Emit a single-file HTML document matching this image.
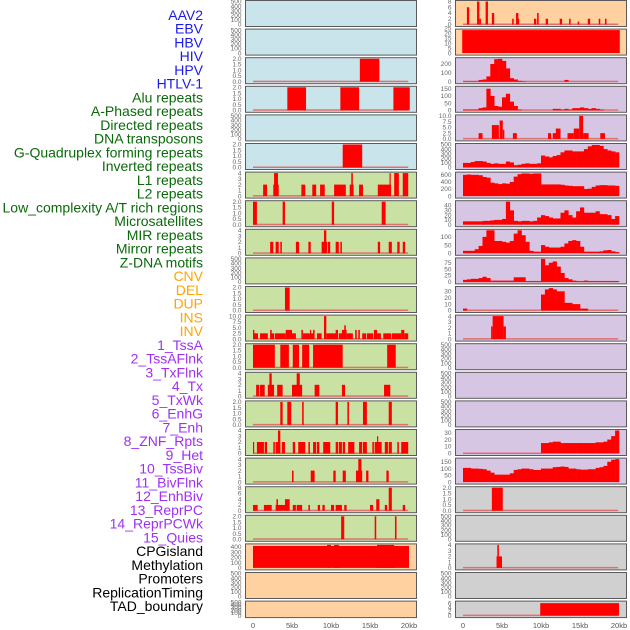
<!DOCTYPE html>
<html><head><meta charset="utf-8"><style>
html,body{margin:0;padding:0;background:#fff;}
svg{display:block;}
.lab{font-family:"Liberation Sans",sans-serif;font-size:14px;}
.tk{font-family:"Liberation Sans",sans-serif;font-size:6.5px;fill:#666;}
.ax{font-family:"Liberation Sans",sans-serif;font-size:7.5px;fill:#555;}
</style></head><body>
<svg id="chart" width="630" height="630" viewBox="0 0 630 630" xmlns="http://www.w3.org/2000/svg">
<g id="labels"></g>
<g id="panels"></g>
<g id="xaxes"></g>
</svg>
<script>
const trackLabels = ["AAV2","EBV","HBV","HIV","HPV","HTLV-1","Alu repeats","A-Phased repeats","Directed repeats","DNA transposons","G-Quadruplex forming repeats","Inverted repeats","L1 repeats","L2 repeats","Low_complexity A/T rich regions","Microsatellites","MIR repeats","Mirror repeats","Z-DNA motifs","CNV","DEL","DUP","INS","INV","1_TssA","2_TssAFlnk","3_TxFlnk","4_Tx","5_TxWk","6_EnhG","7_Enh","8_ZNF_Rpts","9_Het","10_TssBiv","11_BivFlnk","12_EnhBiv","13_ReprPC","14_ReprPCWk","15_Quies","CPGisland","Methylation","Promoters","ReplicationTiming","TAD_boundary"];
const labelGroups = ["v","v","v","v","v","v","r","r","r","r","r","r","r","r","r","r","r","r","r","s","s","s","s","s","c","c","c","c","c","c","c","c","c","c","c","c","c","c","c","k","k","k","k","k"];
const xTickLabels = ["0","5kb","10kb","15kb","20kb"];
const xTickValues = [0,5,10,15,20];

const tEmpty = ["0","100","200","300","400","500"], vEmpty=[0,100,200,300,400,500];
const t2 = ["0.0","0.5","1.0","1.5","2.0"], v2=[0,0.5,1,1.5,2];
const t4 = ["0","1","2","3","4"], v4=[0,1,2,3,4];
const t10 = ["0.0","2.5","5.0","7.5","10.0"], v10=[0,2.5,5,7.5,10];
const t8 = ["0","2","4","6","8"], v8=[0,2,4,6,8];

// segments [startKb, endKb, value]
const hivBars = [[13.7,16.2,2]];
const hpvBars = [[4.4,6.8,2],[11.2,13.6,2],[18.0,20.1,2]];
const aphasedBars = [[11.5,14.0,2]];
const invertedBars = [[1.3,1.8,2],[2.7,3.2,4],[2.6,3.3,2],[6.2,6.7,2],[7.6,8.1,2],[8.6,9.2,2],[10.4,11.9,2],[12.4,12.9,2],[12.6,12.8,4],[13.6,14.1,2],[16.0,17.7,2],[17.5,17.6,4],[18.1,18.7,4],[19.2,19.9,4]];
const l1Bars = [[0,0.5,2],[3.8,4.1,2],[10.1,10.4,2],[16.5,17.0,2]];
const l2Bars = [[2.2,2.6,2],[2.9,3.3,2],[3.5,3.7,2],[5.5,5.9,2],[7.1,7.4,2],[8.8,9.5,2],[9.1,9.4,4],[9.6,9.9,2],[10.6,11.0,2],[11.2,11.4,2],[16.0,16.3,2],[17.4,17.8,2],[18.5,18.8,2],[19.2,19.5,2]];
const microBars = [[4.1,4.7,2]];
const mirBars = [[0,0.64,2.5],[0,0.17,4],[0.9,1.9,2.5],[2.2,2.7,2.5],[2.2,2.4,4],[2.8,4.2,2.5],[4.2,5.0,4],[5.0,5.5,2.5],[6.2,6.4,4],[6.4,7.3,2.5],[7.3,7.4,4],[7.4,7.7,2.5],[7.7,7.9,4],[8.2,8.8,2.5],[9.1,9.4,10],[9.4,10.8,2.5],[10.6,10.9,4],[11.0,11.7,2.5],[11.4,12.0,4],[11.7,11.9,6],[12.0,12.8,2.5],[13.1,13.3,4],[13.5,13.7,4],[14.0,14.5,2.5],[14.6,15.4,2.5],[15.5,15.9,4],[15.9,16.4,2.5],[16.7,17.7,2.5],[17.8,19.0,2.5],[19.0,19.4,4],[19.4,19.9,2.5]];
const mirrorBars = [[0,2.8,2],[3.5,4.6,2],[5.1,5.9,2],[6.3,7.2,2],[7.7,11.5,2],[17.2,18.3,2]];
const zdnaBars = [[0.4,0.8,2],[0.9,1.5,2],[1.9,2.7,2],[2.1,2.4,4],[3.1,3.8,2],[5.0,6.3,2],[5.6,6.0,4],[7.9,8.5,2],[11.4,11.8,2],[16.8,17.6,2]];
const cnvBars = [[3.5,3.8,2],[4.4,4.9,2],[6.3,6.5,2],[10.6,10.9,2],[12.1,12.3,2],[14.1,14.6,2],[17.4,17.8,2]];
const delBars = [[0,0.15,2],[0.5,1.4,2],[1.5,1.8,2],[2.6,2.8,2],[2.9,3.5,2],[3.2,3.5,4],[3.7,4.1,2],[5.1,5.4,2],[5.8,6.7,2],[7.1,7.3,2],[7.7,8.1,2],[8.2,8.5,2],[9.0,9.9,2],[10.6,10.9,2],[11.0,11.4,2],[11.5,11.8,2],[12.2,13.0,2],[13.6,14.0,2],[14.1,14.6,2],[15.3,15.5,2],[15.6,16.5,2],[15.9,16.0,3],[16.9,17.3,2],[17.4,17.8,2],[18.5,18.7,2],[19.0,19.9,2]];
const dupBars = [[5.0,5.2,2],[7.4,7.9,2],[10.3,10.6,2],[11.5,11.9,2],[13.2,14.0,2],[13.5,13.9,4],[14.5,14.8,2],[17.1,17.4,2]];
const insBars = [[0,0.6,2],[1.4,2.4,2],[2.9,4.1,2],[3.0,3.2,4],[4.1,4.7,4],[5.1,5.5,2],[5.6,6.3,2],[7.1,7.3,2],[8.3,8.6,2],[8.9,9.2,2],[10.0,10.4,2],[10.6,11.4,2],[11.7,12.0,2],[15.0,15.4,2],[15.8,16.2,4],[16.9,17.2,2],[17.4,17.8,8],[19.2,19.5,2]];
const invBars = [[11.3,11.7,2],[15.6,15.8,2],[18.2,18.4,2]];
const cpgBars = [[0,20,420],[9.5,10,440],[10.4,11,440],[15.9,18.1,440]];
const aav2Bars = [[0.5,0.8,6],[1.8,2.1,8],[2.1,2.3,2],[2.9,3.2,8],[3.7,4.0,4],[6.3,6.5,2],[6.8,7.1,4],[7.0,7.2,2],[9.1,9.4,2],[9.5,9.7,4],[10.6,10.9,2],[12.4,12.7,2],[13.6,13.8,2],[14.7,14.9,1],[16.0,16.3,2],[17.4,17.6,2],[18.2,18.4,2]];
const ebvBars = [[-0.1,20.1,23]];
const hivRBins = [5,5,5,5,20,25,60,200,255,258,235,150,40,25,10,5,0,0,0,0,0,0,0,0,0,0,20,0,0,0,0,0,0,0,0,0,0,0,0,0];
const aluBins = [5,5,5,5,15,20,150,100,30,25,90,115,60,30,5,0,0,0,0,0,0,0,0,10,10,5,10,5,15,15,20,15,10,15,10,5,0,0,0,0];
const aphRBars = [[2.0,2.5,2.5],[3.7,4.6,6],[4.7,5.1,8],[5.1,5.3,4],[6.4,6.9,2.5],[10.9,11.3,2.5],[11.5,12.0,2.5],[11.9,12.5,4.5],[13.4,14.2,2.5],[14.2,14.9,4.5],[14.9,15.4,10],[15.4,16.1,2.5],[17.6,18.2,2.5]];
const gquadBins = [100,100,120,140,140,130,100,80,90,80,80,130,110,50,60,80,90,80,80,90,260,240,220,250,270,330,370,370,350,350,350,400,460,490,490,470,400,370,350,330];
const l1RBins = [600,610,600,600,590,540,520,380,360,340,360,350,400,550,620,640,640,630,640,640,330,330,330,330,330,320,300,290,280,280,280,200,210,260,300,310,310,300,300,290];
const lowcBins = [7,7,7,7,7,8,8,9,10,10,12,48,30,8,7,8,8,7,8,15,20,18,15,13,13,25,30,20,15,28,36,25,25,25,28,22,22,20,12,18];
const microRBins = [15,15,15,25,45,100,140,140,75,75,70,65,75,120,140,110,70,15,10,10,50,40,35,35,35,40,60,75,80,75,40,10,10,10,10,12,18,20,12,8];
const mirRBins = [8,10,12,12,15,20,15,5,5,5,5,5,5,18,18,18,3,3,3,3,90,65,75,80,60,35,15,10,5,3,3,5,3,3,3,3,3,3,3,3];
const mirrorRBins = [3,0,0,0,0,0,0,0,0,0,0,0,0,0,0,0,0,0,0,0,25,33,35,33,30,30,12,12,10,10,3,3,0,0,0,0,0,0,0,0];
const zdnaRBars = [[3.6,3.8,2.2],[3.8,5.2,4],[5.2,5.5,2.2]];
const enhBins = [1,1,1,1,1,1,1,1,1,1,1,1,1,1,1,1,1,1,1,1,15,15,16,17,17,15,15,15,15,15,15,15,15,15,16,16,17,20,25,33];
const hetBins = [105,105,100,100,98,95,85,70,55,55,55,55,65,90,95,100,100,95,90,90,100,100,100,110,112,115,112,100,100,95,92,92,95,95,105,110,120,150,165,170];
const tssBivBars = [[3.7,5.1,2]];
const cpgRBars = [[4.3,5.0,2],[4.4,4.6,4]];
const tadBars = [[9.9,20,6]];

const BG = {blue:"#c9e4eb",green:"#c9e2a3",orange:"#ffd0a0",purple:"#d6c5e3",gray:"#d0d0d0"};
const panels = [
 {id:"aav2-l",col:0,row:0,bg:"blue",tl:tEmpty,tv:vEmpty,max:500},
 {id:"ebv-l",col:0,row:1,bg:"blue",tl:tEmpty,tv:vEmpty,max:500},
 {id:"hbv-l",col:0,row:2,bg:"blue",tl:t2,tv:v2,max:2,seg:hivBars,base:1},
 {id:"hiv-l",col:0,row:3,bg:"blue",tl:t2,tv:v2,max:2,seg:hpvBars,base:1},
 {id:"hpv-l",col:0,row:4,bg:"blue",tl:tEmpty,tv:vEmpty,max:500},
 {id:"htlv-l",col:0,row:5,bg:"blue",tl:t2,tv:v2,max:2,seg:aphasedBars,base:1},
 {id:"alu-l",col:0,row:6,bg:"green",tl:t4,tv:v4,max:4,seg:invertedBars,base:1},
 {id:"aphased-l",col:0,row:7,bg:"green",tl:t2,tv:v2,max:2,seg:l1Bars,base:1},
 {id:"directed-l",col:0,row:8,bg:"green",tl:t4,tv:v4,max:4,seg:l2Bars,base:1},
 {id:"dna-l",col:0,row:9,bg:"green",tl:tEmpty,tv:vEmpty,max:500},
 {id:"gquad-l",col:0,row:10,bg:"green",tl:t2,tv:v2,max:2,seg:microBars,base:1},
 {id:"inverted-l",col:0,row:11,bg:"green",tl:t10,tv:v10,max:10,seg:mirBars,base:1},
 {id:"l1-l",col:0,row:12,bg:"green",tl:t2,tv:v2,max:2,seg:mirrorBars,base:1},
 {id:"l2-l",col:0,row:13,bg:"green",tl:t4,tv:v4,max:4,seg:zdnaBars,base:1},
 {id:"lowc-l",col:0,row:14,bg:"green",tl:t2,tv:v2,max:2,seg:cnvBars,base:1},
 {id:"micro-l",col:0,row:15,bg:"green",tl:t4,tv:v4,max:4,seg:delBars,base:1},
 {id:"mir-l",col:0,row:16,bg:"green",tl:t4,tv:v4,max:4,seg:dupBars,base:1},
 {id:"mirror-l",col:0,row:17,bg:"green",tl:t8,tv:v8,max:8,seg:insBars,base:1},
 {id:"zdna-l",col:0,row:18,bg:"green",tl:t2,tv:v2,max:2,seg:invBars,base:1},
 {id:"cnv-l",col:0,row:19,bg:"orange",tl:["0","100","200","300","400"],tv:[0,100,200,300,400],max:440,seg:cpgBars},
 {id:"del-l",col:0,row:20,bg:"orange",tl:tEmpty,tv:vEmpty,max:500},
 {id:"dup-l",col:0,row:21,bg:"orange",tl:tEmpty,tv:vEmpty,max:500},
 {id:"aav2-r",col:1,row:0,bg:"orange",tl:t8,tv:v8,max:8,seg:aav2Bars,base:1},
 {id:"ebv-r",col:1,row:1,bg:"orange",tl:["0","5","10","15","20","25"],tv:[0,5,10,15,20,25],max:23,seg:ebvBars},
 {id:"hiv-r",col:1,row:2,bg:"purple",tl:["0","100","200"],tv:[0,100,200],max:260,bins:hivRBins,base:1},
 {id:"alu-r",col:1,row:3,bg:"purple",tl:["0","50","100","150"],tv:[0,50,100,150],max:160,bins:aluBins,base:1},
 {id:"aph-r",col:1,row:4,bg:"purple",tl:t10,tv:v10,max:10,seg:aphRBars,base:1},
 {id:"gquad-r",col:1,row:5,bg:"purple",tl:tEmpty,tv:vEmpty,max:500,bins:gquadBins},
 {id:"l1-r",col:1,row:6,bg:"purple",tl:["0","200","400","600"],tv:[0,200,400,600],max:650,bins:l1RBins},
 {id:"lowc-r",col:1,row:7,bg:"purple",tl:["0","10","20","30","40"],tv:[0,10,20,30,40],max:48,bins:lowcBins},
 {id:"micro-r",col:1,row:8,bg:"purple",tl:["0","50","100"],tv:[0,50,100],max:140,bins:microRBins},
 {id:"mir-r",col:1,row:9,bg:"purple",tl:["0","25","50","75"],tv:[0,25,50,75],max:90,bins:mirRBins,base:1},
 {id:"mirror-r",col:1,row:10,bg:"purple",tl:["0","10","20","30"],tv:[0,10,20,30],max:36,bins:mirrorRBins,base:1},
 {id:"zdna-r",col:1,row:11,bg:"purple",tl:t4,tv:v4,max:4,seg:zdnaRBars,base:1},
 {id:"tssa-r",col:1,row:12,bg:"purple",tl:tEmpty,tv:vEmpty,max:500},
 {id:"tssaflnk-r",col:1,row:13,bg:"purple",tl:tEmpty,tv:vEmpty,max:500},
 {id:"txflnk-r",col:1,row:14,bg:"purple",tl:tEmpty,tv:vEmpty,max:500},
 {id:"enh-r",col:1,row:15,bg:"purple",tl:["0","10","20","30"],tv:[0,10,20,30],max:33,bins:enhBins},
 {id:"het-r",col:1,row:16,bg:"purple",tl:["0","50","100","150"],tv:[0,50,100,150],max:170,bins:hetBins},
 {id:"bivflnk-r",col:1,row:17,bg:"gray",tl:t2,tv:v2,max:2,seg:tssBivBars,base:1},
 {id:"enhbiv-r",col:1,row:18,bg:"gray",tl:tEmpty,tv:vEmpty,max:500},
 {id:"cpg-r",col:1,row:19,bg:"gray",tl:t4,tv:v4,max:4,seg:cpgRBars,base:1},
 {id:"promoters-r",col:1,row:20,bg:"gray",tl:tEmpty,tv:vEmpty,max:500},
 {id:"tad-r",col:1,row:21,bg:"gray",tl:["0","2","4","6"],tv:[0,2,4,6],max:6.5,seg:tadBars,base:1}
];
const NS="http://www.w3.org/2000/svg";
function mk(tag,attrs,parent){const e=document.createElementNS(NS,tag);for(const k in attrs)e.setAttribute(k,attrs[k]);parent.appendChild(e);return e;}
const labColors={v:"#1a1aee",r:"#0a6a0a",s:"#ffa500",c:"#a030f0",k:"#000"};
const labG=document.getElementById("labels");
const shown = trackLabels.filter((t,i)=>!["Low_complexity A/T rich regions"].includes("x"));
// visible labels (37)
const visibleIdx=[0,1,2,3,4,5,6,7,8,9,10,11,12,13,14,15,16,17,18,19,20,21,22,23,24,25,26,27,28,29,30,31,32,33,34,35,36,37,38,39,40,41,42,43];
const visible=["AAV2","EBV","HBV","HIV","HPV","HTLV-1","Alu repeats","A-Phased repeats","Directed repeats","DNA transposons","G-Quadruplex forming repeats","Inverted repeats","L1 repeats","L2 repeats","Low_complexity A/T rich regions","Microsatellites","MIR repeats","Mirror repeats","Z-DNA motifs","CNV","DEL","DUP","INS","INV","1_TssA","2_TssAFlnk","3_TxFlnk","4_Tx","5_TxWk","6_EnhG","7_Enh","8_ZNF_Rpts","9_Het","10_TssBiv","11_BivFlnk","12_EnhBiv","13_ReprPC","14_ReprPCWk","15_Quies","CPGisland","Methylation","Promoters","ReplicationTiming","TAD_boundary"];
const visGroup=["v","v","v","v","v","v","r","r","r","r","r","r","r","r","r","r","r","r","r","s","s","s","s","s","c","c","c","c","c","c","c","c","c","c","c","c","c","c","c","k","k","k","k","k"];
// original image shows 44 labels? use 44 with spacing to fit 15..611
visible.forEach((t,i)=>{
  const y=20+i*(611-20)/(visible.length-1)+0;
  const el=mk("text",{x:203,y:y,"text-anchor":"end",class:"lab",fill:labColors[visGroup[i]]},labG);
  el.textContent=t;
  
  
});
const pG=document.getElementById("panels");
function draw(p){
  const g=mk("g",{},pG);
  
  
  const left=p.col?455.5:245.5, x0=p.col?463:253, sx=7.8;
  const top=0.5+p.row*28.6, h=p.row==21?16.5:26;
  const X=k=>Math.max(left+1,Math.min(left+170,x0+k*sx));
  const Y=v=>top+h-2-v/p.max*(h-3);
  const bg=mk("rect",{x:left,y:top,width:171,height:h,fill:BG[p.bg]},g);
  
  
  p.tv.forEach((v,i)=>{
    const t=mk("text",{x:left-4,y:Y(v)+2.2,"text-anchor":"end",class:"tk"},g);
    t.textContent=p.tl[i];
    
    
  });
  if(p.base){
    const b=mk("rect",{x:X(0),y:Y(0)-1,width:X(19.9)-X(0),height:1.5,fill:"#e07070"},g);
    
    
  }
  if(p.bins){
    p.bins.forEach((v,i)=>{
      if(v<=0)return;
      const r=mk("rect",{x:X(i*0.5),y:Y(v),width:X(i*0.5+0.5)-X(i*0.5)+0.3,height:Y(0)-Y(v),fill:"#ff0000"},g);
      
      
    });
  }
  if(p.seg){
    p.seg.forEach(s=>{
      const r=mk("rect",{x:X(s[0]),y:Y(s[2]),width:Math.max(1.2,X(s[1])-X(s[0])),height:Y(0)-Y(s[2]),fill:"#ff0000"},g);
      
      
    });
  }
  const f=mk("rect",{x:left,y:top,width:171,height:h,fill:"none",stroke:"#5a5a5a","stroke-width":1},g);
  
  
}
panels.forEach(draw);
const xa=document.getElementById("xaxes");
[253,463].forEach(x0=>{
  xTickValues.forEach((v,i)=>{
    const t=mk("text",{x:x0+v*7.8,y:628,"text-anchor":"middle",class:"ax"},xa);
    t.textContent=xTickLabels[i];
    
    
  });
});
</script>
</body></html>
